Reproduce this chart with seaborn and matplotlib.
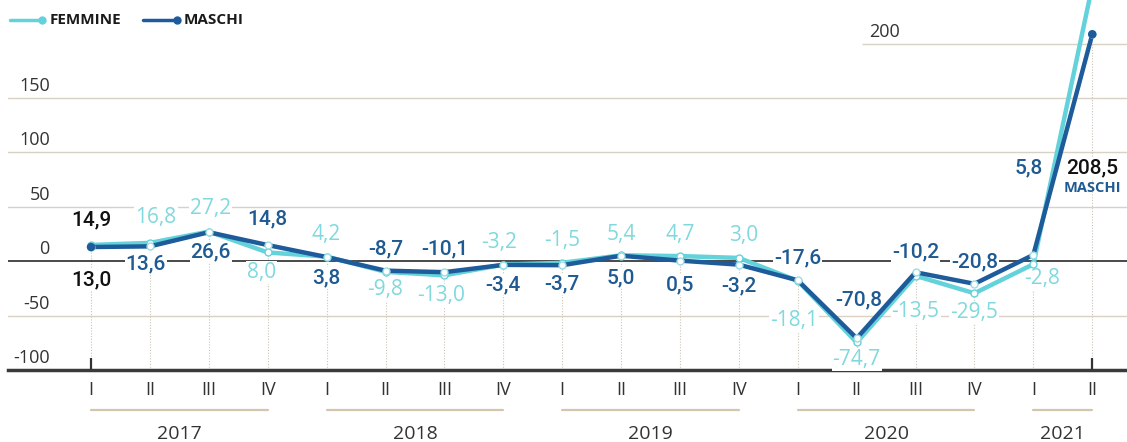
import numpy as np
import pandas as pd
import matplotlib
matplotlib.use("Agg")
import matplotlib.pyplot as plt
import matplotlib.transforms as mtransforms
from matplotlib.lines import Line2D
import seaborn as sns

# data: quarterly change, 2017 I - 2021 II
quarters = ["I", "II", "III", "IV"] * 4 + ["I", "II"]
years = ["2017", "2018", "2019", "2020", "2021"]
femmine = [14.9, 16.8, 27.2, 8.0, 4.2, -9.8, -13.0, -3.2, -1.5, 5.4, 4.7, 3.0,
           -18.1, -74.7, -13.5, -29.5, -2.8, 253.0]
maschi = [13.0, 13.6, 26.6, 14.8, 3.8, -8.7, -10.1, -3.4, -3.7, 5.0, 0.5, -3.2,
          -17.6, -70.8, -10.2, -20.8, 5.8, 208.5]
yticks = [-100, -50, 0, 50, 100, 150, 200]

df = pd.DataFrame({"idx": np.arange(len(quarters)), "quarter": quarters,
                   "FEMMINE": femmine, "MASCHI": maschi})

# label offsets in pixels (dx, dy down)
off_f = [(0, -25), (6, -25), (2, -23), (-6, 20), (0, -22), (0, 18), (-3, 20),
         (-4, -22), (0, -22), (0, -21), (0, -22), (5, -22), (-4, 40), (0, 17),
         (0, 36), (0, 19), (9, 14), None]
off_m = [(0, 33), (-4, 17), (2, 20), (0, -26), (0, 21), (0, -22), (0, -23),
         (0, 20), (0, 19), (0, 22), (0, 24), (0, 21), (0, -22), (2, -38),
         (0, -20), (0, -22), (-5, -87), (0, 134)]

CYAN = "#63d2da"
BLUE = "#1d5b9b"
CYAN_TXT = "#80d9dd"
BLUE_TXT = "#1f5a92"
GRID = "#d8d1c4"

sns.set_theme(style="white")
plt.rcParams["font.family"] = ["Open Sans", "DejaVu Sans"]

fig = plt.figure(figsize=(11.27, 4.42), dpi=100)
ax = fig.add_axes([8 / 1127, 72 / 442, 1 - 8 / 1127, 370 / 442])
ax.set_xlim(-1.41, 17.59)
ax.set_ylim(-100, 240)

# grid
for y in [-50, 50, 100, 150]:
    ax.axhline(y, color=GRID, lw=1, zorder=1)
ax.hlines(200, 13.09, 17.6, color=GRID, lw=1, zorder=1)
ax.axhline(0, color="#3a3a3a", lw=1.3, zorder=2)
ax.vlines(df["idx"], -100, np.minimum(df["FEMMINE"], df["MASCHI"]),
          color="#cdc6b8", lw=0.8, ls=(0, (1, 1.5)), zorder=1)
ax.vlines([df["idx"].iloc[0], df["idx"].iloc[-1]], -100, -89, color="#333333", lw=1.6, zorder=3)

# lines
sns.lineplot(data=df, x="idx", y="FEMMINE", color=CYAN, lw=3.2, marker="o", markersize=5,
             markerfacecolor="white", markeredgecolor=CYAN, markeredgewidth=1,
             ax=ax, zorder=5)
sns.lineplot(data=df, x="idx", y="MASCHI", color=BLUE, lw=3.2, marker="o", markersize=5,
             markerfacecolor="white", markeredgecolor="#9adde2", markeredgewidth=1,
             ax=ax, zorder=6)
ends = df.iloc[[0, -1]]
ax.scatter(ends["idx"], ends["MASCHI"], color=BLUE, s=38, zorder=7, edgecolor="none")

# value labels
def fmt(v):
    return f"{v:.1f}".replace(".", ",")

box = dict(boxstyle="square,pad=0.05", fc="white", ec="none")
for i, row in df.iterrows():
    last = i == len(df) - 1
    first = i == 0
    if off_f[i] is not None:
        dx, dy = off_f[i]
        ax.annotate(fmt(row["FEMMINE"]), (row["idx"], row["FEMMINE"]), xytext=(dx, -dy),
                    textcoords="offset pixels", ha="center", va="center", fontsize=15,
                    color="#111111" if first else CYAN_TXT,
                    family=["Roboto", "Open Sans"] if first else ["Open Sans"],
                    fontweight="medium" if first else "normal", bbox=box, zorder=4)
    dx, dy = off_m[i]
    ax.annotate(fmt(row["MASCHI"]), (row["idx"], row["MASCHI"]), xytext=(dx, -dy),
                textcoords="offset pixels", ha="center", va="center", fontsize=15,
                color="#111111" if (first or last) else BLUE_TXT,
                family=["Roboto", "Open Sans"], fontweight="medium", bbox=box, zorder=4)
    if last:
        ax.annotate("MASCHI", (row["idx"], row["MASCHI"]), xytext=(dx, -dy - 20),
                    textcoords="offset pixels", ha="center", va="center", fontsize=10.5,
                    color=BLUE_TXT, fontweight="bold", zorder=4)

# y tick labels above gridlines
for y in yticks:
    xpos = -0.70 if y != 200 else 13.74
    ax.annotate(str(y), (xpos, y), xytext=(0, 12), textcoords="offset pixels",
                ha="right", va="center", fontsize=13, color="#333333")

# x axis
ax.set_yticks([])
ax.set_xticks(df["idx"], df["quarter"])
ax.tick_params(axis="x", length=0, pad=8, labelsize=13, labelcolor="#333333")
ax.set_xlabel("")
ax.set_ylabel("")
for s in ["top", "left", "right"]:
    ax.spines[s].set_visible(False)
ax.spines["bottom"].set_color("#3a3a3a")
ax.spines["bottom"].set_linewidth(2.5)

trans = mtransforms.blended_transform_factory(ax.transData, ax.transAxes)
for k, yr in enumerate(years):
    start = 4 * k
    end = min(4 * k + 3, len(df) - 1)
    ax.plot([start, end], [-0.108, -0.108], transform=trans, clip_on=False,
            color="#d2c6ae", lw=1.6)
    ax.text((start + end) / 2, -0.172, yr, transform=trans, ha="center", va="center",
            fontsize=14, color="#333333")

# legend
yl = 1 - 20 / 442
for x0, x1, xt, col, name in [(10, 42, 50, CYAN, "FEMMINE"), (143, 177, 184, BLUE, "MASCHI")]:
    fig.add_artist(Line2D([x0 / 1127, x1 / 1127], [yl, yl], transform=fig.transFigure,
                          color=col, lw=2.5, marker="o", markevery=[1], markersize=5))
    fig.text(xt / 1127, yl, name, ha="left", va="center", fontsize=11,
             fontweight="bold", color="#1a1a1a")

fig.savefig("out.png", dpi=100)
